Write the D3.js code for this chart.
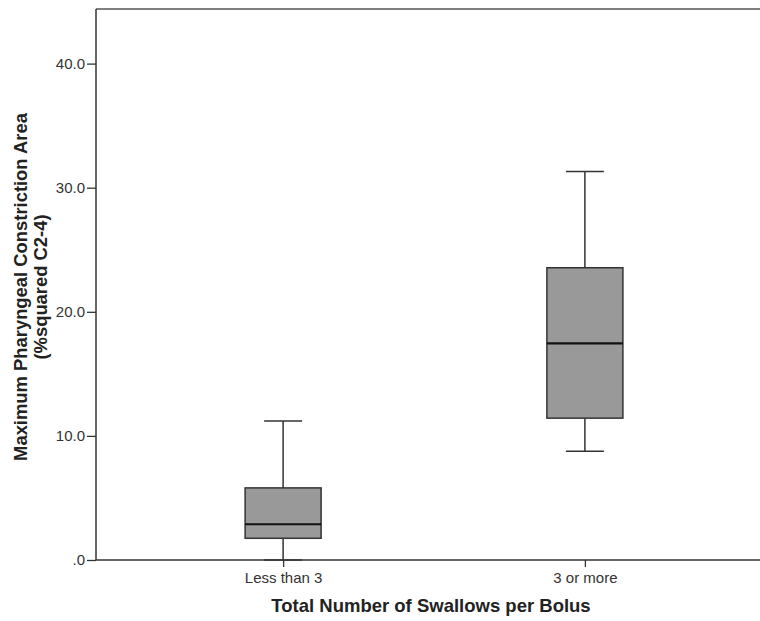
<!DOCTYPE html>
<html>
<head>
<meta charset="utf-8">
<script src="https://cdn.jsdelivr.net/npm/d3@7"></script>
<style>
  body { margin: 0; background: #fff; }
  text { font-family: "Liberation Sans", Arial, sans-serif; }
</style>
</head>
<body>
<div id="chart"></div>
<script>
// box plot values
var categories = ["Less than 3", "3 or more"];
var whiskerLow = [0.0, 8.77];
var q1 = [1.75, 11.43];
var median = [2.88, 17.45];
var q3 = [5.81, 23.55];
var whiskerHigh = [11.2, 31.3];
var yTicks = [0, 10, 20, 30, 40];

var W = 760, H = 621;
var plotLeft = 96, plotTop = 9, plotBottom = 560;

var svg = d3.select("#chart")
    .append("svg")
    .attr("width", W)
    .attr("height", H);

var y = d3.scaleLinear()
    .domain([0, 44.4])
    .range([plotBottom, plotTop]);

var x = d3.scalePoint()
    .domain(categories)
    .range([plotLeft, 772])
    .padding(0.62);

var boxW = 76;

// frame (top line runs off the right edge)
svg.append("line")
    .attr("x1", plotLeft).attr("x2", W)
    .attr("y1", plotTop).attr("y2", plotTop)
    .attr("stroke", "#555").attr("stroke-width", 1.5);

var yAxis = svg.append("g")
    .attr("transform", "translate(" + plotLeft + ",0)")
    .call(d3.axisLeft(y).tickValues(yTicks).tickSize(9).tickPadding(2)
        .tickFormat(function (d) { return d === 0 ? ".0" : d3.format(".1f")(d); }));
yAxis.select(".domain").remove();
yAxis.append("line")
    .attr("x1", 0).attr("x2", 0)
    .attr("y1", plotTop).attr("y2", plotBottom)
    .attr("stroke", "#333").attr("stroke-width", 1.5);
yAxis.selectAll(".tick line").attr("stroke", "#333").attr("stroke-width", 1.3);
yAxis.selectAll(".tick text")
    .attr("fill", "#333")
    .attr("font-size", "15px")
    .attr("font-family", "Liberation Sans, Arial, sans-serif");

// boxes
var g = svg.append("g");
categories.forEach(function (c, i) {
    var cx = x(c);
    g.append("line")
        .attr("x1", cx).attr("x2", cx)
        .attr("y1", y(whiskerHigh[i])).attr("y2", y(q3[i]))
        .attr("stroke", "#333").attr("stroke-width", 1.5);
    g.append("line")
        .attr("x1", cx).attr("x2", cx)
        .attr("y1", y(q1[i])).attr("y2", y(whiskerLow[i]))
        .attr("stroke", "#333").attr("stroke-width", 1.5);
    [whiskerHigh[i], whiskerLow[i]].forEach(function (v) {
        g.append("line")
            .attr("x1", cx - boxW / 4).attr("x2", cx + boxW / 4)
            .attr("y1", y(v)).attr("y2", y(v))
            .attr("stroke", "#333").attr("stroke-width", 1.5);
    });
    g.append("rect")
        .attr("x", cx - boxW / 2)
        .attr("y", y(q3[i]))
        .attr("width", boxW)
        .attr("height", y(q1[i]) - y(q3[i]))
        .attr("fill", "#999")
        .attr("stroke", "#333")
        .attr("stroke-width", 1.5);
    g.append("line")
        .attr("x1", cx - boxW / 2).attr("x2", cx + boxW / 2)
        .attr("y1", y(median[i])).attr("y2", y(median[i]))
        .attr("stroke", "#111").attr("stroke-width", 2.2);
});

var xAxis = svg.append("g")
    .attr("transform", "translate(0," + plotBottom + ")")
    .call(d3.axisBottom(x).tickSize(7).tickPadding(5));
xAxis.select(".domain").remove();
xAxis.append("line")
    .attr("x1", plotLeft).attr("x2", W)
    .attr("y1", 0).attr("y2", 0)
    .attr("stroke", "#333").attr("stroke-width", 1.5);
xAxis.selectAll(".tick line").attr("stroke", "#333").attr("stroke-width", 1.3);
xAxis.selectAll(".tick text")
    .attr("fill", "#333")
    .attr("font-size", "15px")
    .attr("font-family", "Liberation Sans, Arial, sans-serif");

// axis titles
svg.append("text")
    .attr("x", 431)
    .attr("y", 612)
    .attr("text-anchor", "middle")
    .attr("font-size", "18.5px")
    .attr("font-weight", "bold")
    .attr("fill", "#222")
    .text("Total Number of Swallows per Bolus");

var yl = svg.append("text")
    .attr("transform", "translate(27,287) rotate(-90)")
    .attr("text-anchor", "middle")
    .attr("font-size", "18.4px")
    .attr("font-weight", "bold")
    .attr("fill", "#222");
yl.append("tspan").attr("x", 0).attr("dy", 0).text("Maximum Pharyngeal Constriction Area");
yl.append("tspan").attr("x", 0).attr("dy", 20).text("(%squared C2-4)");
</script>
</body>
</html>
